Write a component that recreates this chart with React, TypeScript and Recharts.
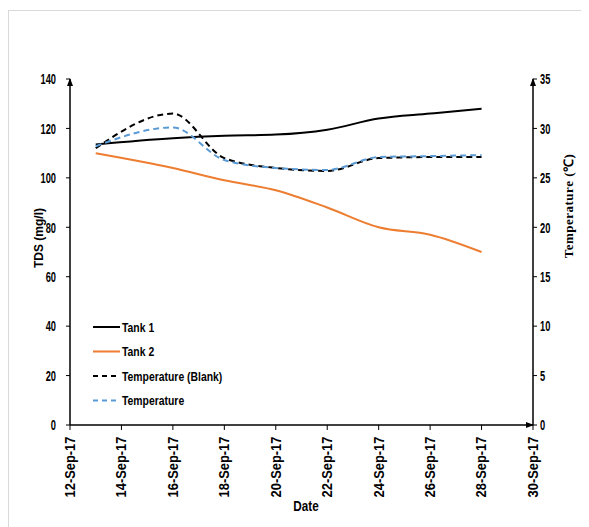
import React from 'react';
import { ComposedChart, Line, XAxis, YAxis, ReferenceDot } from 'recharts';

const days = [13, 16, 18, 20, 22, 24, 26, 28];
const tank1 = [113.5, 116, 117, 117.5, 119.5, 124, 126, 128];
const tank2 = [110, 104, 99, 95, 88, 80, 77, 70];
const tempBlank = [28, 31.5, 27, 26, 25.7, 27, 27.1, 27.1];
const temp = [28.2, 30.1, 26.8, 26, 25.8, 27.1, 27.2, 27.3];

const tickDays = [12, 14, 16, 18, 20, 22, 24, 26, 28, 30];
const leftTicks = [0, 20, 40, 60, 80, 100, 120, 140];
const rightTicks = [0, 5, 10, 15, 20, 25, 30, 35];

const seriesNames = ['Tank 1', 'Tank 2', 'Temperature (Blank)', 'Temperature'];

const data = days.map((d, i) => ({
  day: d,
  tank1: tank1[i],
  tank2: tank2[i],
  tempBlank: tempBlank[i],
  temp: temp[i],
}));

const SANS = '"Liberation Sans", Arial, sans-serif';

const legendItems = [
  { name: seriesNames[0], color: '#000000', dash: undefined },
  { name: seriesNames[1], color: '#ED7D31', dash: undefined },
  { name: seriesNames[2], color: '#000000', dash: '5 4' },
  { name: seriesNames[3], color: '#5B9BD5', dash: '5 4' },
];

const LegendBox = () => (
  <svg width={170} height={100} style={{ position: 'absolute', left: 84, top: 306 }}>
    {legendItems.map((it, i) => (
      <g key={it.name} transform={`translate(0, ${10 + i * 24.5})`}>
        <line x1={0} x2={27} y1={0} y2={0} stroke={it.color} strokeWidth={2} strokeDasharray={it.dash} />
        <text transform="translate(29,0) scale(0.8,1)" x={0} y={0} dy="0.35em" fontFamily={SANS} fontWeight="bold" fontSize={13} fill="#000">
          {it.name}
        </text>
      </g>
    ))}
  </svg>
);

const XTick = (props: any) => {
  const { x, y, payload } = props;
  return (
    <g transform={`translate(${x},${y})`}>
      <text transform="rotate(-90) scale(0.92,1)" x={-5} y={0} dy="0.35em" textAnchor="end" fontFamily={SANS} fontWeight="bold" fontSize={14} fill="#000">
        {`${payload.value}-Sep-17`}
      </text>
    </g>
  );
};

const YTick = (props: any) => {
  const { x, y, payload, textAnchor } = props;
  return (
    <text transform={`translate(${x},${y}) scale(0.62,1)`} x={0} y={0} dy="0.35em" textAnchor={textAnchor} fontFamily={SANS} fontWeight="bold" fontSize={15} fill="#000">
      {payload.value}
    </text>
  );
};

const ArrowUp = (props: any) => {
  const { cx, cy } = props;
  return <path d={`M${cx - 3},${cy + 7} L${cx},${cy - 1} L${cx + 3},${cy + 7} Z`} fill="#000" />;
};
const ArrowRight = (props: any) => {
  const { cx, cy } = props;
  return <path d={`M${cx - 7},${cy - 3} L${cx + 1},${cy} L${cx - 7},${cy + 3} Z`} fill="#000" />;
};

export default function App() {
  return (
    <div style={{ paddingTop: 2 }}>
      <div style={{ borderTop: '1px solid #d9d9d9', borderLeft: '1px solid #d9d9d9', width: 600, height: 530, position: 'relative' }}>
        <ComposedChart width={580} height={516} data={data} margin={{ top: 68, right: 0, bottom: 0, left: 0 }}>
          <XAxis
            dataKey="day"
            type="number"
            domain={[12, 30]}
            ticks={tickDays}
            interval={0}
            height={102}
            tick={<XTick />}
            tickSize={5}
            tickMargin={2}
            axisLine={{ stroke: '#000', strokeWidth: 1.5 }}
            tickLine={{ stroke: '#000' }}
          />
          <YAxis
            yAxisId="left"
            domain={[0, 140]}
            ticks={leftTicks}
            interval={0}
            width={61}
            tickSize={4}
            tickMargin={10}
            axisLine={{ stroke: '#000', strokeWidth: 1.5 }}
            tickLine={{ stroke: '#000' }}
            tick={<YTick />}
          />
          <YAxis
            yAxisId="right"
            orientation="right"
            domain={[0, 35]}
            ticks={rightTicks}
            interval={0}
            width={56}
            tickSize={4}
            tickMargin={3}
            axisLine={{ stroke: '#000', strokeWidth: 1.5 }}
            tickLine={{ stroke: '#000' }}
            tick={<YTick />}
          />
          <Line yAxisId="left" type="monotone" dataKey="tank1" name={seriesNames[0]} stroke="#000000" strokeWidth={2} dot={false} isAnimationActive={false} />
          <Line yAxisId="left" type="monotone" dataKey="tank2" name={seriesNames[1]} stroke="#ED7D31" strokeWidth={2} dot={false} isAnimationActive={false} />
          <Line yAxisId="right" type="monotone" dataKey="tempBlank" name={seriesNames[2]} stroke="#000000" strokeWidth={2} strokeDasharray="6 4" dot={false} isAnimationActive={false} />
          <Line yAxisId="right" type="monotone" dataKey="temp" name={seriesNames[3]} stroke="#5B9BD5" strokeWidth={2} strokeDasharray="6 4" dot={false} isAnimationActive={false} />
          <ReferenceDot yAxisId="left" x={12} y={140} r={0} shape={<ArrowUp />} ifOverflow="visible" />
          <ReferenceDot yAxisId="right" x={30} y={35} r={0} shape={<ArrowUp />} ifOverflow="visible" />
          <ReferenceDot yAxisId="left" x={30} y={0} r={0} shape={<ArrowRight />} ifOverflow="visible" />
          <text transform="translate(30,227) rotate(-90)" x={0} y={0} dy="0.35em" textAnchor="middle" fontFamily={SANS} fontWeight="bold" fontSize={12} fill="#000">
            TDS  (mg/l)
          </text>
          <text transform="translate(559,195) rotate(-90)" x={0} y={0} dy="0.35em" textAnchor="middle" letterSpacing={0.5} fontFamily="'Liberation Serif', 'Times New Roman', serif" fontWeight="bold" fontSize={13} fill="#000">
            Temperature  (℃)
          </text>
          <text transform="translate(297,500) scale(0.78,1)" x={0} y={0} textAnchor="middle" fontFamily={SANS} fontWeight="bold" fontSize={15} fill="#000">
            Date
          </text>
        </ComposedChart>
        <LegendBox />
      </div>
    </div>
  );
}
